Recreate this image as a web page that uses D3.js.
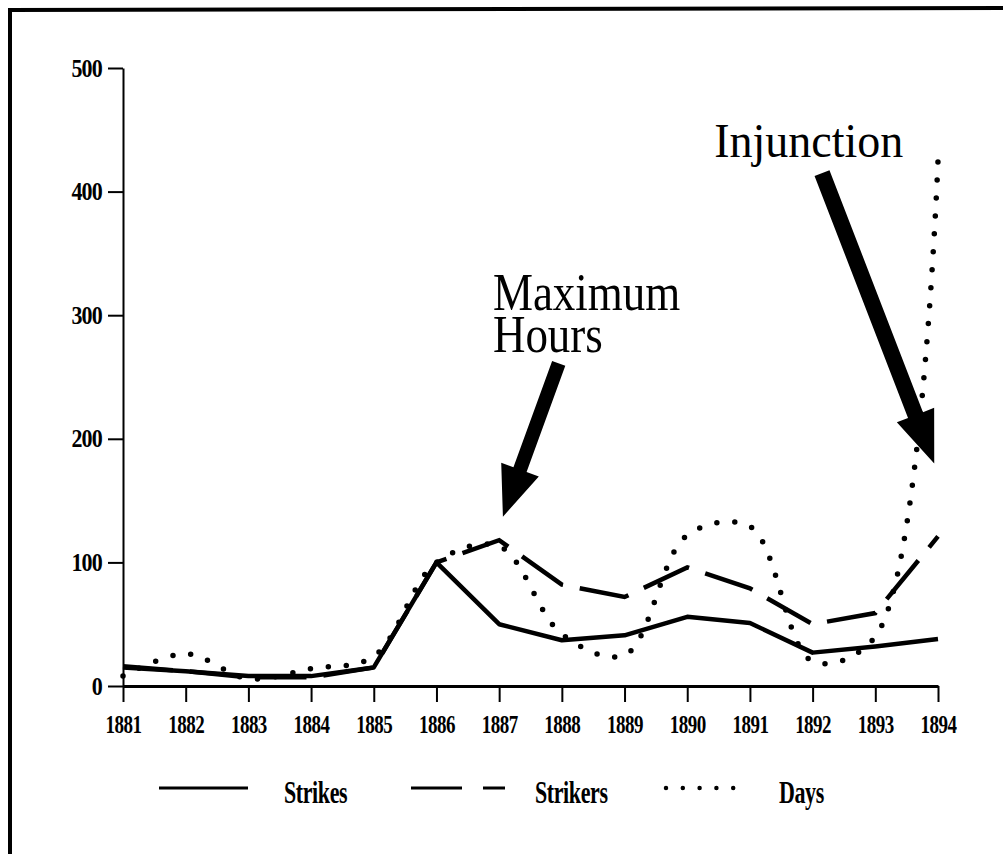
<!DOCTYPE html>
<html>
<head>
<meta charset="utf-8">
<script src="https://cdn.jsdelivr.net/npm/d3@7"></script>
<style>
  html, body { margin: 0; padding: 0; background: #fff; }
  svg { display: block; }
  text { font-family: "Liberation Serif", "Times New Roman", serif; fill: #000; }
</style>
</head>
<body>
<svg id="chart" width="1003" height="854"></svg>
<script>
// ---- data ----
const years    = [1881,1882,1883,1884,1885,1886,1887,1888,1889,1890,1891,1892,1893,1894];
const strikes  = [15, 12, 8, 8, 15, 100, 50, 37, 41, 56, 51, 27, 32, 38];
const strikers = [16, 12, 7, 7, 15, 100, 118, 82, 72, 96, 79, 50, 59, 121];
const days     = [8, 26, 6, 14, 24, 100, 113, 42, 25, 122, 129, 20, 40, 425];
const yTicks   = [0, 100, 200, 300, 400, 500];
const seriesNames = ["Strikes", "Strikers", "Days"];

// ---- setup ----
const svg = d3.select("#chart");
const x = d3.scaleLinear().domain([1881, 1894]).range([123, 938]);
const y = d3.scaleLinear().domain([0, 500]).range([686, 68]);

// frame (left and top edges of the scanned box)
svg.append("line").attr("x1", 10).attr("y1", 8).attr("x2", 10).attr("y2", 854)
  .attr("stroke", "#000").attr("stroke-width", 4);
svg.append("line").attr("x1", 8).attr("y1", 10).attr("x2", 1003).attr("y2", 8)
  .attr("stroke", "#000").attr("stroke-width", 4);

// ---- axes ----
const xAxis = d3.axisBottom(x).tickValues(years).tickFormat(d3.format("d"))
  .tickSize(16).tickSizeOuter(0);
const gx = svg.append("g").attr("transform", `translate(0,${y(0)})`).call(xAxis);
gx.select(".domain").attr("stroke", "#000").attr("stroke-width", 3);
gx.selectAll(".tick line").attr("stroke", "#000").attr("stroke-width", 2);
gx.selectAll(".tick text")
  .attr("y", 0).attr("dy", 0)
  .attr("transform", "translate(0,47) scale(1,1.3)")
  .style("font-family", "'Liberation Serif', serif")
  .style("font-size", "19px").style("font-weight", "bold")
  .style("letter-spacing", "-0.5px");

const yAxis = d3.axisLeft(y).tickValues(yTicks).tickSize(15).tickSizeOuter(0);
const gy = svg.append("g").attr("transform", `translate(${x(1881)},0)`).call(yAxis);
gy.select(".domain").attr("stroke", "#000").attr("stroke-width", 2);
gy.selectAll(".tick line").attr("stroke", "#000").attr("stroke-width", 2);
gy.selectAll(".tick text")
  .attr("x", 0).attr("dy", 0).attr("y", 0)
  .attr("transform", "translate(-21,8) scale(1,1.15)")
  .style("font-family", "'Liberation Serif', serif")
  .style("font-size", "22px").style("font-weight", "bold")
  .style("letter-spacing", "-0.8px");

// ---- lines ----
const lineLinear = d3.line().x((d, i) => x(years[i])).y(d => y(d));
const lineCurve = d3.line().x((d, i) => x(years[i])).y(d => y(d)).curve(d3.curveCatmullRom.alpha(0.5));

svg.append("path").datum(days).attr("d", lineCurve)
  .attr("fill", "none").attr("stroke", "#000").attr("stroke-width", 5.5)
  .attr("stroke-linecap", "round").attr("stroke-dasharray", "0,18");

svg.append("path").datum(strikers).attr("d", lineLinear)
  .attr("fill", "none").attr("stroke", "#000").attr("stroke-width", 4.5)
  .attr("stroke-dasharray", "50,17");

svg.append("path").datum(strikes).attr("d", lineLinear)
  .attr("fill", "none").attr("stroke", "#000").attr("stroke-width", 4.5)
  .attr("stroke-linejoin", "round");

// ---- annotations ----
function arrow(tail, tip, shaftW, headW, headL) {
  const dx = tip[0] - tail[0], dy = tip[1] - tail[1];
  const len = Math.hypot(dx, dy);
  const ux = dx / len, uy = dy / len, px = -uy, py = ux;
  const bx = tip[0] - ux * headL, by = tip[1] - uy * headL;
  const pts = [
    [tail[0] + px * shaftW / 2, tail[1] + py * shaftW / 2],
    [bx + px * shaftW / 2, by + py * shaftW / 2],
    [bx + px * headW / 2, by + py * headW / 2],
    tip,
    [bx - px * headW / 2, by - py * headW / 2],
    [bx - px * shaftW / 2, by - py * shaftW / 2],
    [tail[0] - px * shaftW / 2, tail[1] - py * shaftW / 2]
  ];
  svg.append("polygon").attr("points", pts.map(p => p.join(",")).join(" ")).attr("fill", "#000");
}
// arrows positioned in data space
arrow([x(1887.95), y(261)], [x(1887.06), y(137)], 14, 40, 50);
arrow([x(1892.15), y(415)], [x(1893.94), y(180)], 16, 40, 52);

function label(txt, xv, yv, size, sy) {
  return svg.append("text")
    .attr("transform", `translate(${x(xv)},${y(yv)}) scale(1,${sy})`)
    .style("font-size", size + "px")
    .text(txt);
}
label("Maximum", 1886.9, 304, 45, 1.15);
label("Hours", 1886.9, 270, 45, 1.15);
label("Injunction", 1890.43, 428, 46, 1.05);

// ---- legend ----
const legendY = 788;
const lg = svg.append("g");
lg.append("line").attr("x1", 159).attr("x2", 248).attr("y1", legendY).attr("y2", legendY)
  .attr("stroke", "#000").attr("stroke-width", 3);
lg.append("line").attr("x1", 411).attr("x2", 505).attr("y1", legendY).attr("y2", legendY)
  .attr("stroke", "#000").attr("stroke-width", 3).attr("stroke-dasharray", "51,21,22,100");
lg.append("line").attr("x1", 666).attr("x2", 734).attr("y1", legendY).attr("y2", legendY)
  .attr("stroke", "#000").attr("stroke-width", 4.5).attr("stroke-linecap", "round")
  .attr("stroke-dasharray", "0,16.8");
const legendX = [284, 535, 779];
seriesNames.forEach((n, i) => {
  lg.append("text")
    .attr("transform", `translate(${legendX[i]},${legendY + 15}) scale(1,1.45)`)
    .style("font-size", "22px").style("font-weight", "bold")
    .style("letter-spacing", "-0.4px")
    .text(n);
});
</script>
</body>
</html>
